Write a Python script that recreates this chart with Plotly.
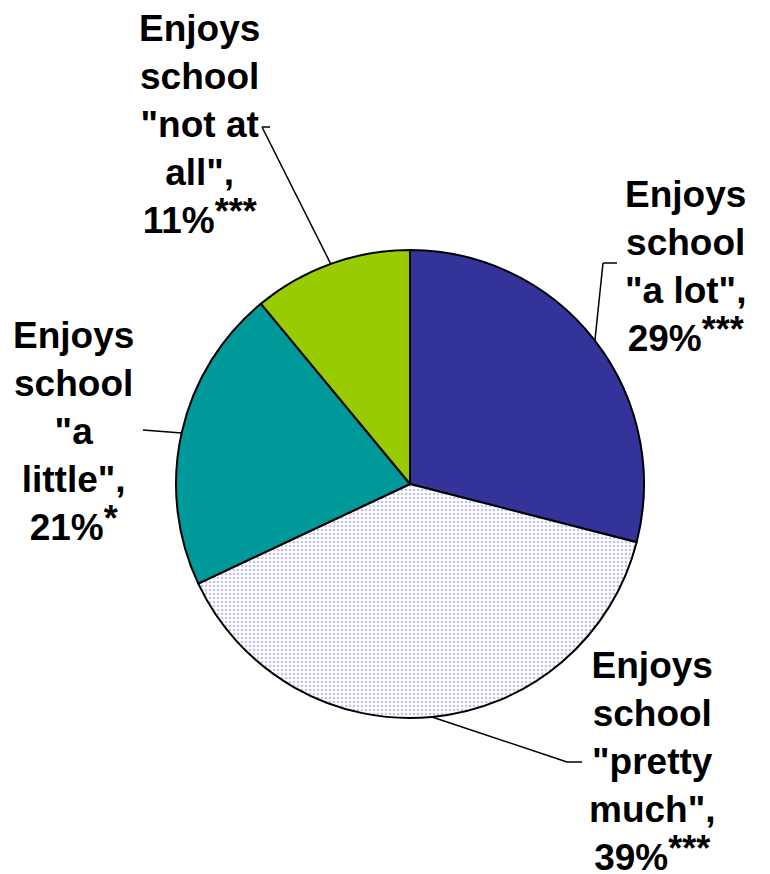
import math
import plotly.graph_objects as go

# ---- data ----
categories = ['Enjoys school "a lot"', 'Enjoys school "pretty much"',
              'Enjoys school "a little"', 'Enjoys school "not at all"']
values = [29, 39, 21, 11]
significance = ["***", "***", "*", "***"]
label_lines = [
    ['Enjoys', 'school', '"a lot",'],
    ['Enjoys', 'school', '"pretty', 'much",'],
    ['Enjoys', 'school', '"a', 'little",'],
    ['Enjoys', 'school', '"not at', 'all",'],
]
colors = ["#333399", "#FFFFFF", "#009999", "#99CC00"]

# ---- layout geometry (pixels) ----
W, H = 770, 874
cx, cy, R = 410, 484, 234
# label block positions (center x, top y) and leader-line start points
label_pos = [(685, 172), (652, 643), (73, 313), (200, 6)]
leader_start = [(617, 263), (582, 762), (143, 430), (270, 127)]
leader_elbow = [(603, 263), (567, 762), (143, 430), (262, 127)]


def px(x):
    return x / W


def py(y):
    return 1 - y / H


fig = go.Figure(go.Pie(
    labels=categories,
    values=values,
    sort=False,
    direction="clockwise",
    rotation=0,
    textinfo="none",
    hoverinfo="label+percent",
    showlegend=False,
    marker=dict(
        colors=colors,
        line=dict(color="black", width=2),
        pattern=dict(shape=["", ".", "", ""], fgcolor="#C4C4E6",
                     bgcolor=colors, size=4, solidity=0.35),
    ),
    domain=dict(x=[px(cx - R), px(cx + R)], y=[py(cy + R), py(cy - R)]),
))

shapes = []
annotations = []
total = sum(values)
cum = 0
for i, v in enumerate(values):
    mid = (cum + v / 2) / total * 2 * math.pi
    cum += v
    ex = cx + R * math.sin(mid)
    ey = cy - R * math.cos(mid)
    sx, sy = leader_start[i]
    bx, by = leader_elbow[i]
    shapes.append(dict(type="line", xref="paper", yref="paper",
                       x0=px(sx), y0=py(sy), x1=px(bx), y1=py(by),
                       line=dict(color="black", width=1.5)))
    shapes.append(dict(type="line", xref="paper", yref="paper",
                       x0=px(bx), y0=py(by), x1=px(ex), y1=py(ey),
                       line=dict(color="black", width=1.5)))
    pct = round(v / total * 100)
    text = "<br>".join(label_lines[i]) + "<br>" + f"{pct}%" + \
        f"<span style='font-size:36px;baseline-shift:9px'>{significance[i]}</span>"
    lx, ly = label_pos[i]
    annotations.append(dict(
        x=px(lx), y=py(ly), xref="paper", yref="paper",
        xanchor="center", yanchor="top", align="center",
        showarrow=False, text="<b>" + text + "</b>",
        font=dict(family="Liberation Sans, Arial, sans-serif", size=37, color="black"),
    ))

fig.update_layout(
    width=W, height=H,
    margin=dict(l=0, r=0, t=0, b=0),
    paper_bgcolor="white", plot_bgcolor="white",
    shapes=shapes, annotations=annotations,
)

fig.write_html("out.html", config={"displayModeBar": False},
               post_script="document.body.style.margin='0';document.body.style.overflow='hidden';")
